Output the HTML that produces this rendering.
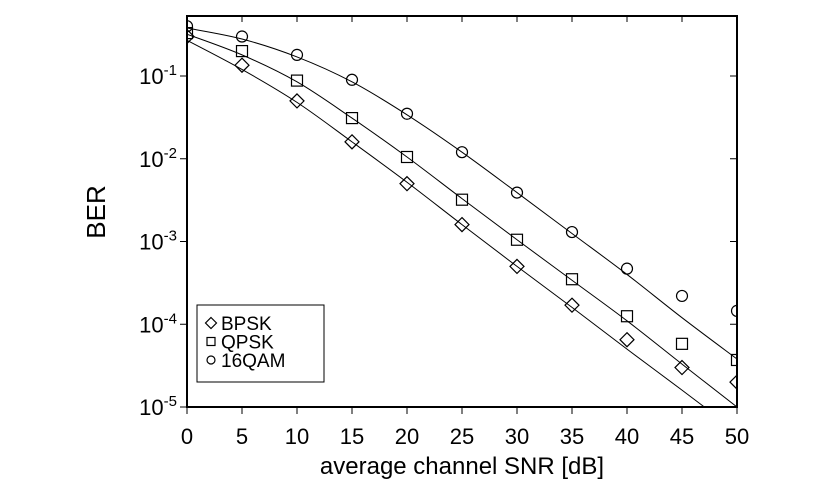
<!DOCTYPE html>
<html><head><meta charset="utf-8"><style>
body{margin:0;background:#fff}
svg{display:block;font-family:"Liberation Sans",sans-serif}
</style></head><body>
<svg id="c" width="820" height="500" viewBox="0 0 820 500"></svg>
<script>
const snr=[0,5,10,15,20,25,30,35,40,45,50];
const bpskPts=[0.30,0.135,0.05,0.016,0.005,0.0016,0.0005,0.00017,0.000065,0.00003,0.00002];
const qpskPts=[0.33,0.2,0.088,0.031,0.0105,0.0032,0.00105,0.00035,0.000125,0.000058,0.000037];
const qamPts=[0.4,0.3,0.18,0.09,0.035,0.012,0.0039,0.0013,0.00047,0.00022,0.000145];
const bpskLine=[0.27,0.12,0.048,0.016,0.0052,0.0016,0.0005,0.00016,0.00005,0.000016,0.000005];
const qpskLine=[0.32,0.18,0.085,0.031,0.0105,0.0033,0.00105,0.00034,0.00011,0.000033,0.00001];
const qamLine=[0.38,0.28,0.17,0.085,0.034,0.012,0.0039,0.00125,0.0004,0.00012,0.000038];
const xTicks=[0,5,10,15,20,25,30,35,40,45,50];
const yExp=[-1,-2,-3,-4,-5];
const L=187,R=737,T=16,B=407,DEC=82.75;
const X=v=>L+(v-0)*(R-L)/50;
const Y=v=>B-(Math.log10(v)+5)*DEC;
const svg=document.getElementById('c');
const NS='http://www.w3.org/2000/svg';
function mk(tag,attrs,parent){const e=document.createElementNS(NS,tag);for(const k in attrs)e.setAttribute(k,attrs[k]);(parent||svg).appendChild(e);return e;}
const defs=mk('defs',{});const cp=mk('clipPath',{id:'clip'},defs);mk('rect',{x:L,y:T,width:R-L,height:B-T},cp);
const frame=mk('rect',{x:L,y:T,width:R-L,height:B-T,fill:'none',stroke:'#000','stroke-width':2});

xTicks.forEach(t=>{
 mk('line',{x1:X(t),x2:X(t),y1:B,y2:B+7,stroke:'#000','stroke-width':1});
 mk('line',{x1:X(t),x2:X(t),y1:T,y2:T+6,stroke:'#000','stroke-width':1});
 const tx=mk('text',{x:X(t),y:B+37,'font-size':22,'text-anchor':'middle'});tx.textContent=t;
 
});
yExp.forEach(e=>{
 const y=B-(e+5)*DEC;
 mk('line',{x1:L-7,x2:L,y1:y,y2:y,stroke:'#000','stroke-width':1});
 mk('line',{x1:R-7,x2:R,y1:y,y2:y,stroke:'#000','stroke-width':1});
 const tx=mk('text',{x:L-10,y:y+8,'font-size':22,'text-anchor':'end'});
 
 const a=mk('tspan',{},tx);a.textContent='10';
 const b=mk('tspan',{dy:-9,'font-size':15},tx);b.textContent=String(e);
});
const xl=mk('text',{x:462,y:474,'font-size':24,'text-anchor':'middle'});xl.textContent='average channel SNR [dB]';

const yl=mk('text',{x:0,y:0,'font-size':26,'text-anchor':'middle',transform:'translate(105,212) rotate(-90)'});yl.textContent='BER';

function curve(vals){
 const p=snr.map((s,i)=>[X(s),Y(vals[i])]);
 let d='M'+p[0][0]+','+p[0][1];
 for(let i=0;i<p.length-1;i++){
  const p0=p[i-1]||p[i],p1=p[i],p2=p[i+1],p3=p[i+2]||p2;
  d+=' C'+(p1[0]+(p2[0]-p0[0])/6)+','+(p1[1]+(p2[1]-p0[1])/6)+' '+(p2[0]-(p3[0]-p1[0])/6)+','+(p2[1]-(p3[1]-p1[1])/6)+' '+p2[0]+','+p2[1];
 }
 return d;
}
const g=mk('g',{'clip-path':'url(#clip)'});
[['bpsk-fit-line',bpskLine],['qpsk-fit-line',qpskLine],['16qam-fit-line',qamLine]].forEach(([n,v])=>{
 const pth=mk('path',{d:curve(v),fill:'none',stroke:'#000','stroke-width':1},g);
 
});
function diamond(x,y,s,parent){return mk('path',{d:`M${x},${y-s} L${x+s},${y} L${x},${y+s} L${x-s},${y} Z`,fill:'none',stroke:'#000','stroke-width':1.2},parent);}
function square(x,y,s,parent){return mk('rect',{x:x-s,y:y-s,width:2*s,height:2*s,fill:'none',stroke:'#000','stroke-width':1.2},parent);}
function circ(x,y,s,parent){return mk('circle',{cx:x,cy:y,r:s,fill:'none',stroke:'#000','stroke-width':1.2},parent);}
const g2=mk('g',{'clip-path':'url(#clip)'});
snr.forEach((s,i)=>{
 const a=diamond(X(s),Y(bpskPts[i]),7,g2);
 const b=square(X(s),Y(qpskPts[i]),5.5,g2);
 const c=circ(X(s),Y(qamPts[i]),5.5,g2);
});
const lg=mk('g',{});
mk('rect',{x:197,y:305,width:127,height:77,fill:'#fff',stroke:'#000','stroke-width':1},lg);
const ent=[['BPSK',diamond,5.5],['QPSK',square,4],['16QAM',circ,4]];
ent.forEach(([t,f,s],i)=>{
 const y=323+i*18.5;
 f(211,y,s,lg);
 const tx=mk('text',{x:221,y:y+7,'font-size':19},lg);tx.textContent=t;
 
});
</script>
</body></html>
